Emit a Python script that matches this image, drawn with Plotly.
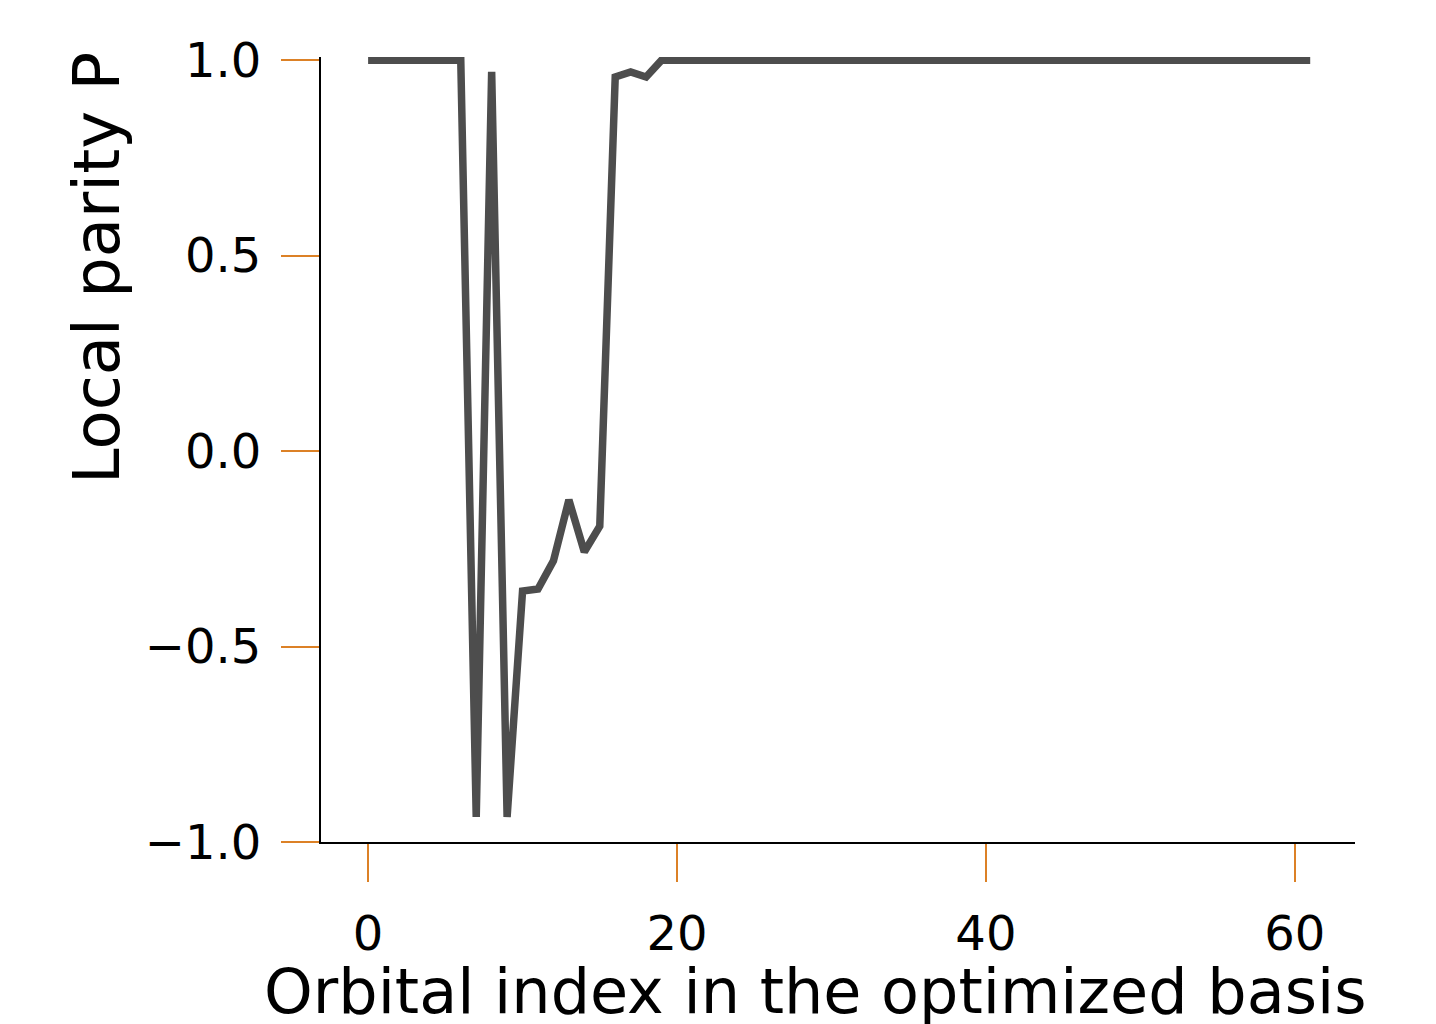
import plotly.graph_objects as go

orbital_index = list(range(62))
local_parity = [1.0] * 7 + [-0.936, 0.97, -0.936, -0.358, -0.353, -0.281, -0.125, -0.258, -0.192,
                            0.957, 0.97, 0.957] + [1.0] * 43

x_ticks = [0, 20, 40, 60]
y_ticks = [-1.0, -0.5, 0.0, 0.5, 1.0]
y_tick_labels = ["−1.0", "−0.5", "0.0", "0.5", "1.0"]
x_title = "Orbital index in the optimized basis"
y_title = "Local parity P"

orange = "#dc8126"
font_family = "DejaVu Sans"

fig = go.Figure()
fig.add_trace(go.Scatter(
    x=orbital_index, y=local_parity, mode="lines",
    line=dict(color="#4d4d4d", width=7.5), showlegend=False,
))

fig.update_layout(
    width=1436, height=1024,
    margin=dict(l=321, r=81, t=57, b=182),
    paper_bgcolor="white", plot_bgcolor="white",
    font=dict(family=font_family, color="black", size=48),
    xaxis=dict(
        range=[-3.05, 63.9], tickvals=x_ticks, ticktext=[str(v) for v in x_ticks],
        ticks="outside", ticklen=38, tickwidth=2, tickcolor=orange,
        showline=True, linecolor="black", linewidth=2, showgrid=False, zeroline=False,
        tickfont=dict(size=48, family=font_family), ticklabelstandoff=10,
        automargin=False,
    ),
    yaxis=dict(
        range=[-1.0, 1.008], tickvals=y_ticks, ticktext=y_tick_labels,
        ticks="outside", ticklen=38, tickwidth=2, tickcolor=orange,
        showline=True, linecolor="black", linewidth=2, showgrid=False, zeroline=False,
        tickfont=dict(size=48, family=font_family), ticklabelstandoff=10,
        automargin=False,
    ),
    annotations=[
        dict(text=x_title, xref="paper", yref="paper", x=(815 - 321) / 1034, y=(842 - 991) / 785,
             xanchor="center", yanchor="middle", showarrow=False,
             font=dict(size=62, family=font_family, color="black")),
        dict(text=y_title, xref="paper", yref="paper", x=(97 - 321) / 1034, y=(842 - 268) / 785,
             xanchor="center", yanchor="middle", showarrow=False, textangle=-90,
             font=dict(size=64, family=font_family, color="black")),
    ],
)

fig.write_html("out.html")
